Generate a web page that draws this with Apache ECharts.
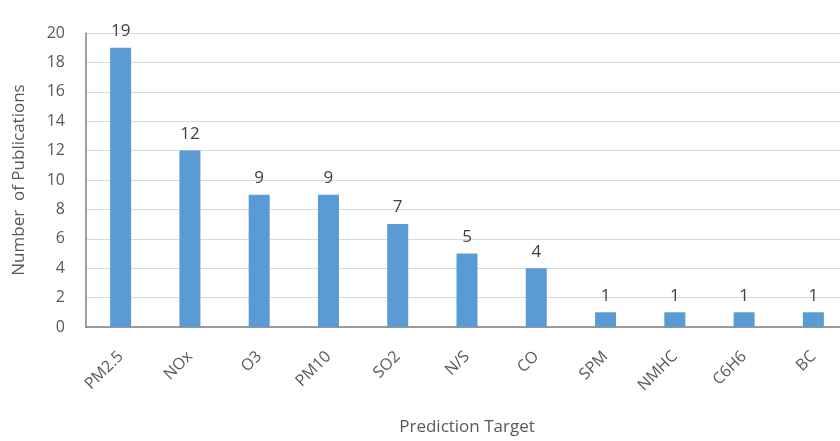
<!DOCTYPE html>
<html>
<head>
<meta charset="utf-8">
<script src="https://cdn.jsdelivr.net/npm/echarts@6/dist/echarts.min.js"></script>
<style>
  html, body { margin: 0; padding: 0; background: #fff; }
  #chart { width: 840px; height: 441px; }
</style>
</head>
<body>
<div id="chart"></div>
<script>
// categories and counts
const categories = ['PM2.5', 'NOx', 'O3', 'PM10', 'SO2', 'N/S', 'CO', 'SPM', 'NMHC', 'C6H6', 'BC']
const counts = [19, 12, 9, 9, 7, 5, 4, 1, 1, 1, 1]
const yTicks = { min: 0, max: 20, interval: 2 }

const chart = echarts.init(document.getElementById('chart'))

chart.setOption({
  animation: false,
  textStyle: { fontFamily: 'Open Sans, Noto Sans, sans-serif' },

  // plot area (runs a little off the right edge like the original)
  grid: {
    left: 86,
    width: 762,
    top: 33,
    bottom: 114,
    outerBoundsMode: 'none'
  },

  xAxis: {
    type: 'category',
    data: categories,
    name: 'Prediction Target',
    nameLocation: 'middle',
    nameGap: 92,
    nameTextStyle: { fontSize: 17, color: '#595959' },
    axisLine: { lineStyle: { color: '#808080', width: 1.5 } },
    axisTick: { show: false },
    axisLabel: {
      interval: 0,
      rotate: 45,
      fontSize: 16,
      color: '#595959',
      margin: 27
    }
  },

  yAxis: {
    type: 'value',
    min: yTicks.min,
    max: yTicks.max,
    interval: yTicks.interval,
    name: 'Number  of Publications',
    nameLocation: 'middle',
    nameGap: 58,
    nameTextStyle: { fontSize: 17, color: '#595959' },
    axisLine: { show: true, lineStyle: { color: '#808080', width: 1.5 } },
    axisTick: { show: false },
    axisLabel: { fontSize: 16, color: '#595959', margin: 21 },
    splitLine: { lineStyle: { color: '#d9d9d9', width: 1 } }
  },

  series: [{
    type: 'bar',
    data: counts,
    barWidth: 21,
    itemStyle: { color: '#5b9bd5' },
    label: {
      show: true,
      position: 'top',
      distance: 8,
      fontSize: 17,
      color: '#404040'
    }
  }]
})
</script>
</body>
</html>
